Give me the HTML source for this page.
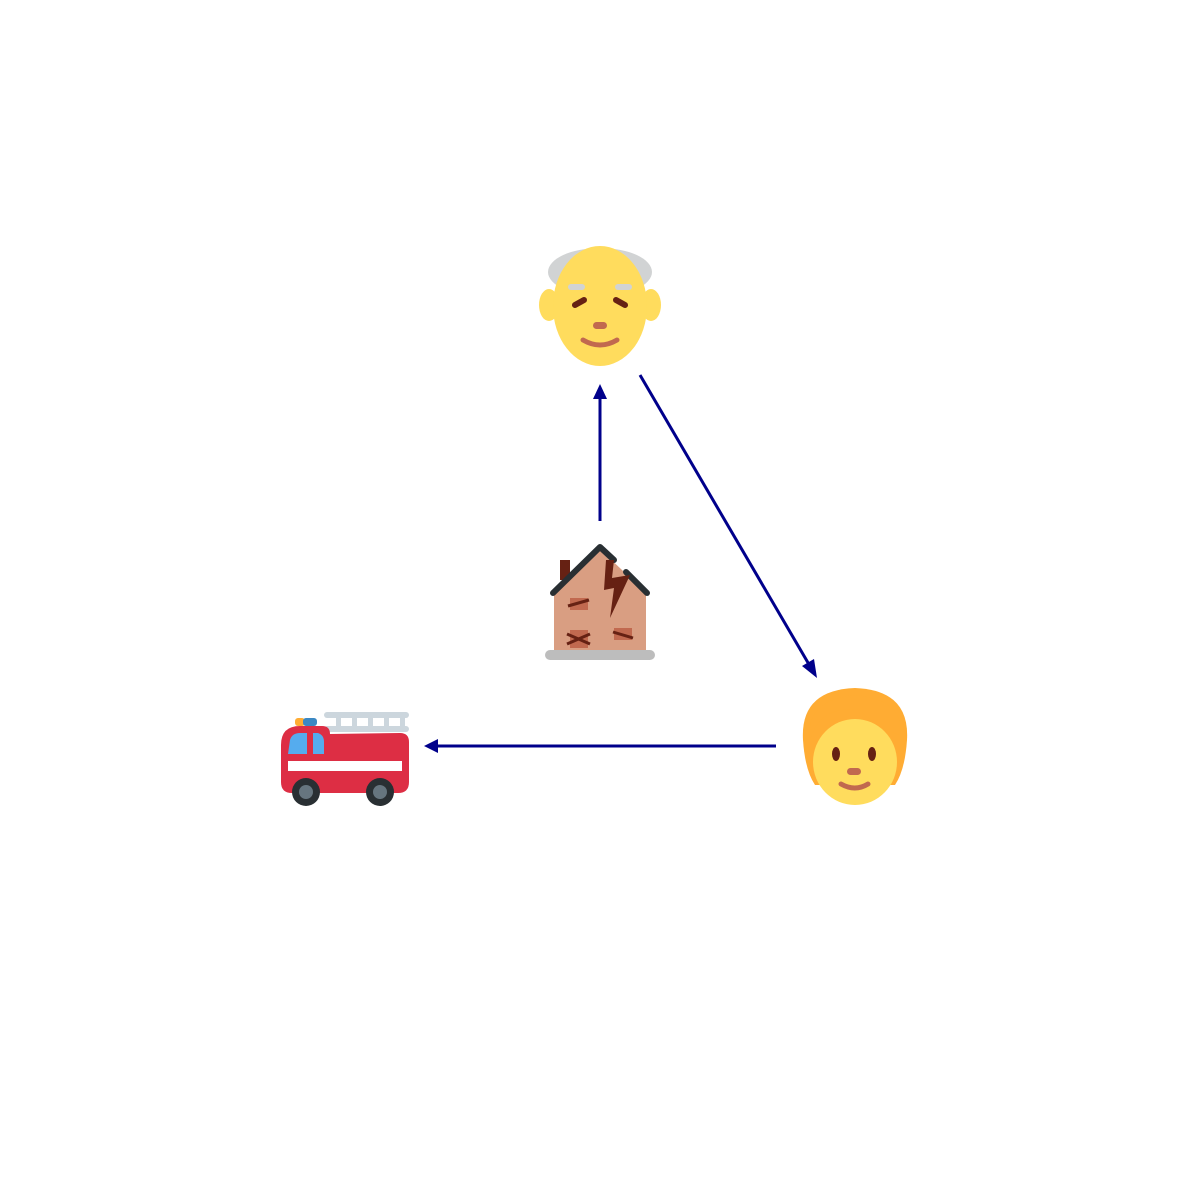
<!DOCTYPE html>
<html>
<head>
<meta charset="utf-8">
<style>
  html,body{margin:0;padding:0;background:#fff;}
  svg{display:block;}
</style>
</head>
<body>
<svg width="1200" height="1200" viewBox="0 0 1200 1200" xmlns="http://www.w3.org/2000/svg">
  <defs>
    <marker id="ah" markerWidth="10" markerHeight="10" refX="8" refY="5" orient="auto" markerUnits="userSpaceOnUse">
      <path d="M0,0 L10,5 L0,10 L2,5 Z" fill="#00008b"/>
    </marker>
  </defs>
  <rect width="1200" height="1200" fill="#fff"/>

  <!-- arrows -->
  <g stroke="#00008b" stroke-width="3" fill="none">
    <line x1="600" y1="521" x2="600" y2="388" marker-end="url(#ah)"/>
    <path d="M593,399 L600,384 L607,399 Z" fill="#00008b" stroke="none"/>
    <line x1="640" y1="375" x2="814" y2="673"/>
    <path d="M802,666 L817,678 L814,659 Z" fill="#00008b" stroke="none"/>
    <line x1="776" y1="746" x2="430" y2="746"/>
    <path d="M438,739 L424,746 L438,753 Z" fill="#00008b" stroke="none"/>
  </g>

  <!-- old man -->
  <g>
    <ellipse cx="600" cy="272" rx="52" ry="24" fill="#D1D3D4"/>
    <ellipse cx="549" cy="305" rx="10" ry="16" fill="#FFDC5D"/>
    <ellipse cx="651" cy="305" rx="10" ry="16" fill="#FFDC5D"/>
    <ellipse cx="600" cy="306" rx="47" ry="60" fill="#FFDC5D"/>
    <rect x="568" y="284" width="17" height="6" rx="3" fill="#D1D3D4"/>
    <rect x="615" y="284" width="17" height="6" rx="3" fill="#D1D3D4"/>
    <line x1="575" y1="305" x2="584" y2="300" stroke="#662113" stroke-width="6" stroke-linecap="round"/>
    <line x1="616" y1="300" x2="625" y2="305" stroke="#662113" stroke-width="6" stroke-linecap="round"/>
    <rect x="593" y="322" width="14" height="7" rx="3.5" fill="#C1694F"/>
    <path d="M583,340 Q600,350 617,340" stroke="#C1694F" stroke-width="5" fill="none" stroke-linecap="round"/>
  </g>

  <!-- house -->
  <g>
    <rect x="560" y="560" width="10" height="20" fill="#662113"/>
    <polygon points="554,593 600,549 646,593 646,650 554,650" fill="#D99E82"/>
    <polyline points="553,593 600,547 614,560" stroke="#292F33" stroke-width="6" fill="none" stroke-linecap="round" stroke-linejoin="round"/>
    <polyline points="626,572 647,593" stroke="#292F33" stroke-width="6" fill="none" stroke-linecap="round"/>
    <polygon points="606,560 614,560 612,578 630,575 610,618 614,588 604,590" fill="#662113"/>
    <rect x="570" y="598" width="18" height="12" fill="#C1694F"/>
    <line x1="568" y1="606" x2="589" y2="600" stroke="#662113" stroke-width="3"/>
    <rect x="614" y="628" width="18" height="12" fill="#C1694F"/>
    <line x1="613" y1="632" x2="633" y2="638" stroke="#662113" stroke-width="3"/>
    <rect x="570" y="630" width="18" height="18" fill="#C1694F"/>
    <line x1="567" y1="634" x2="590" y2="644" stroke="#662113" stroke-width="3"/>
    <line x1="567" y1="644" x2="590" y2="634" stroke="#662113" stroke-width="3"/>
    <rect x="545" y="650" width="110" height="10" rx="5" fill="#BDBDBD"/>
  </g>

  <!-- person -->
  <g>
    <path d="M803,740 Q800,690 855,688 Q910,690 907,740 Q905,770 895,785 L815,785 Q805,770 803,740 Z" fill="#FFAC33"/>
    <ellipse cx="855" cy="762" rx="42" ry="43" fill="#FFDC5D"/>
    <path d="M810,740 Q820,705 860,710 Q880,730 900,735 Q905,700 855,695 Q805,700 810,740 Z" fill="#FFAC33"/>
    <ellipse cx="836" cy="754" rx="4" ry="7" fill="#662113"/>
    <ellipse cx="872" cy="754" rx="4" ry="7" fill="#662113"/>
    <rect x="847" y="768" width="14" height="7" rx="3.5" fill="#C1694F"/>
    <path d="M841,784 Q855,792 868,784" stroke="#C1694F" stroke-width="5" fill="none" stroke-linecap="round"/>
  </g>

  <!-- fire truck -->
  <g>
    <rect x="324" y="712" width="85" height="6" rx="3" fill="#CCD6DD"/>
    <rect x="324" y="726" width="85" height="6" rx="3" fill="#CCD6DD"/>
    <rect x="336" y="712" width="5" height="20" fill="#CCD6DD"/>
    <rect x="352" y="712" width="5" height="20" fill="#CCD6DD"/>
    <rect x="368" y="712" width="5" height="20" fill="#CCD6DD"/>
    <rect x="384" y="712" width="5" height="20" fill="#CCD6DD"/>
    <rect x="400" y="712" width="5" height="20" fill="#CCD6DD"/>
    <rect x="295" y="718" width="10" height="8" rx="3" fill="#FFAC33"/>
    <rect x="303" y="718" width="14" height="8" rx="3" fill="#3B88C3"/>
    <path d="M281,745 Q281,726 300,726 L322,726 Q330,726 330,734 L400,733 Q409,733 409,742 L409,782 Q409,793 398,793 L292,793 Q281,793 281,782 Z" fill="#DD2E44"/>
    <path d="M288,754 L290,740 Q292,733 300,733 L307,733 L307,754 Z" fill="#55ACEE"/>
    <path d="M313,733 L318,733 Q324,735 324,742 L324,754 L313,754 Z" fill="#55ACEE"/>
    <rect x="288" y="761" width="114" height="10" fill="#fff"/>
    <circle cx="306" cy="792" r="14" fill="#292F33"/>
    <circle cx="306" cy="792" r="7" fill="#66757F"/>
    <circle cx="380" cy="792" r="14" fill="#292F33"/>
    <circle cx="380" cy="792" r="7" fill="#66757F"/>
  </g>
</svg>
</body>
</html>
